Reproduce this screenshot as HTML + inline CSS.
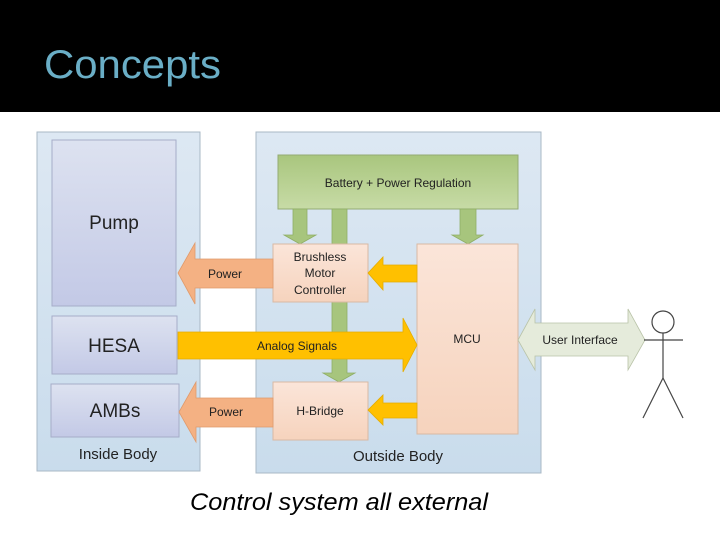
<!DOCTYPE html>
<html><head><meta charset="utf-8"><style>
html,body{margin:0;padding:0;background:#fff;}
svg{display:block;}
text{font-family:"Liberation Sans",sans-serif;}
</style></head><body>
<svg width="720" height="540" viewBox="0 0 720 540" xmlns="http://www.w3.org/2000/svg">
<defs>
<linearGradient id="cont" x1="0" y1="0" x2="0" y2="1"><stop offset="0" stop-color="#dde8f3"/><stop offset="1" stop-color="#c9dcec"/></linearGradient>
<linearGradient id="blue" x1="0" y1="0" x2="0" y2="1"><stop offset="0" stop-color="#dde2f0"/><stop offset="1" stop-color="#c3c9e6"/></linearGradient>
<linearGradient id="grn" x1="0" y1="0" x2="0" y2="1"><stop offset="0" stop-color="#a9c67e"/><stop offset="1" stop-color="#c7dba6"/></linearGradient>
<linearGradient id="pch" x1="0" y1="0" x2="0" y2="1"><stop offset="0" stop-color="#fbe5d9"/><stop offset="1" stop-color="#f6d3bd"/></linearGradient>
</defs>
<rect x="0" y="0" width="720" height="112" fill="#000"/>
<text x="44" y="78" font-size="40" fill="#6aaec6" textLength="177" lengthAdjust="spacingAndGlyphs">Concepts</text>

<rect x="37" y="132" width="163" height="339" fill="url(#cont)" stroke="#a9b8c6"/>
<rect x="52" y="140" width="124" height="166" fill="url(#blue)" stroke="#a6adc8"/>
<rect x="52" y="316" width="125" height="58" fill="url(#blue)" stroke="#a6adc8"/>
<rect x="51" y="384" width="128" height="53" fill="url(#blue)" stroke="#a6adc8"/>
<text x="114" y="229" font-size="19" text-anchor="middle" fill="#222">Pump</text>
<text x="114" y="352" font-size="19" text-anchor="middle" fill="#222">HESA</text>
<text x="115" y="417" font-size="19" text-anchor="middle" fill="#222">AMBs</text>
<text x="118" y="459" font-size="15" text-anchor="middle" fill="#222">Inside Body</text>

<rect x="256" y="132" width="285" height="341" fill="url(#cont)" stroke="#a9b8c6"/>
<rect x="278" y="155" width="240" height="54" fill="url(#grn)" stroke="#94ab74"/>
<text x="398" y="187" font-size="12" text-anchor="middle" fill="#222">Battery + Power Regulation</text>

<!-- green arrows -->
<polygon points="293,209 307,209 307,235 316,235 300,244 284,235 293,235" fill="#a7c57d" stroke="#8fae66" stroke-width="0.8"/>
<polygon points="332,209 347,209 347,373 355,373 339,382 323,373 332,373" fill="#a7c57d" stroke="#8fae66" stroke-width="0.8"/>
<polygon points="460,209 476,209 476,235 483,235 468,244 452,235 460,235" fill="#a7c57d" stroke="#8fae66" stroke-width="0.8"/>

<rect x="273" y="244" width="95" height="58" fill="url(#pch)" stroke="#d8b9a4"/>
<text x="320" y="261" font-size="12" text-anchor="middle" fill="#222">Brushless</text>
<text x="320" y="277" font-size="12" text-anchor="middle" fill="#222">Motor</text>
<text x="320" y="294" font-size="12" text-anchor="middle" fill="#222">Controller</text>
<rect x="273" y="382" width="95" height="58" fill="url(#pch)" stroke="#d8b9a4"/>
<text x="320" y="415" font-size="12" text-anchor="middle" fill="#222">H-Bridge</text>
<rect x="417" y="244" width="101" height="190" fill="url(#pch)" stroke="#d8b9a4"/>
<text x="467" y="343" font-size="12" text-anchor="middle" fill="#222">MCU</text>

<!-- power arrows -->
<polygon points="273,259 273,288 195,288 195,304 178,273 195,243 195,259" fill="#f4b183" stroke="#e09a6b" stroke-width="0.8"/>
<text x="225" y="278" font-size="12" text-anchor="middle" fill="#222">Power</text>
<polygon points="273,398 273,427 196,427 196,442 179,412 196,382 196,398" fill="#f4b183" stroke="#e09a6b" stroke-width="0.8"/>
<text x="226" y="416" font-size="12" text-anchor="middle" fill="#222">Power</text>

<!-- analog -->
<polygon points="178,332 403,332 403,318 417,345 403,372 403,359 178,359" fill="#ffc000" stroke="#e5ac00" stroke-width="0.8"/>
<text x="297" y="350" font-size="12" text-anchor="middle" fill="#222">Analog Signals</text>

<!-- yellow small -->
<polygon points="417,265 417,282 383,282 383,290 368,273 383,257 383,265" fill="#ffc000" stroke="#e5ac00" stroke-width="0.8"/>
<polygon points="417,403 417,418 383,418 383,425 368,410 383,395 383,403" fill="#ffc000" stroke="#e5ac00" stroke-width="0.8"/>

<text x="398" y="461" font-size="15" text-anchor="middle" fill="#222">Outside Body</text>

<!-- user interface -->
<polygon points="518,340 535,309 535,323 628,323 628,309 645,340 628,370 628,356 535,356 535,370" fill="#e5ebdb" stroke="#b9c3a8" stroke-width="0.8"/>
<text x="580" y="344" font-size="12" text-anchor="middle" fill="#222">User Interface</text>

<!-- stick figure -->
<g stroke="#444" stroke-width="1.2" fill="none">
<circle cx="663" cy="322" r="11" fill="#fff"/>
<line x1="663" y1="333" x2="663" y2="378"/>
<line x1="644" y1="340" x2="683" y2="340"/>
<line x1="663" y1="378" x2="643" y2="418"/>
<line x1="663" y1="378" x2="683" y2="418"/>
</g>

<text x="339" y="510" font-size="24" font-style="italic" text-anchor="middle" fill="#000" textLength="298" lengthAdjust="spacingAndGlyphs">Control system all external</text>
</svg>
</body></html>
